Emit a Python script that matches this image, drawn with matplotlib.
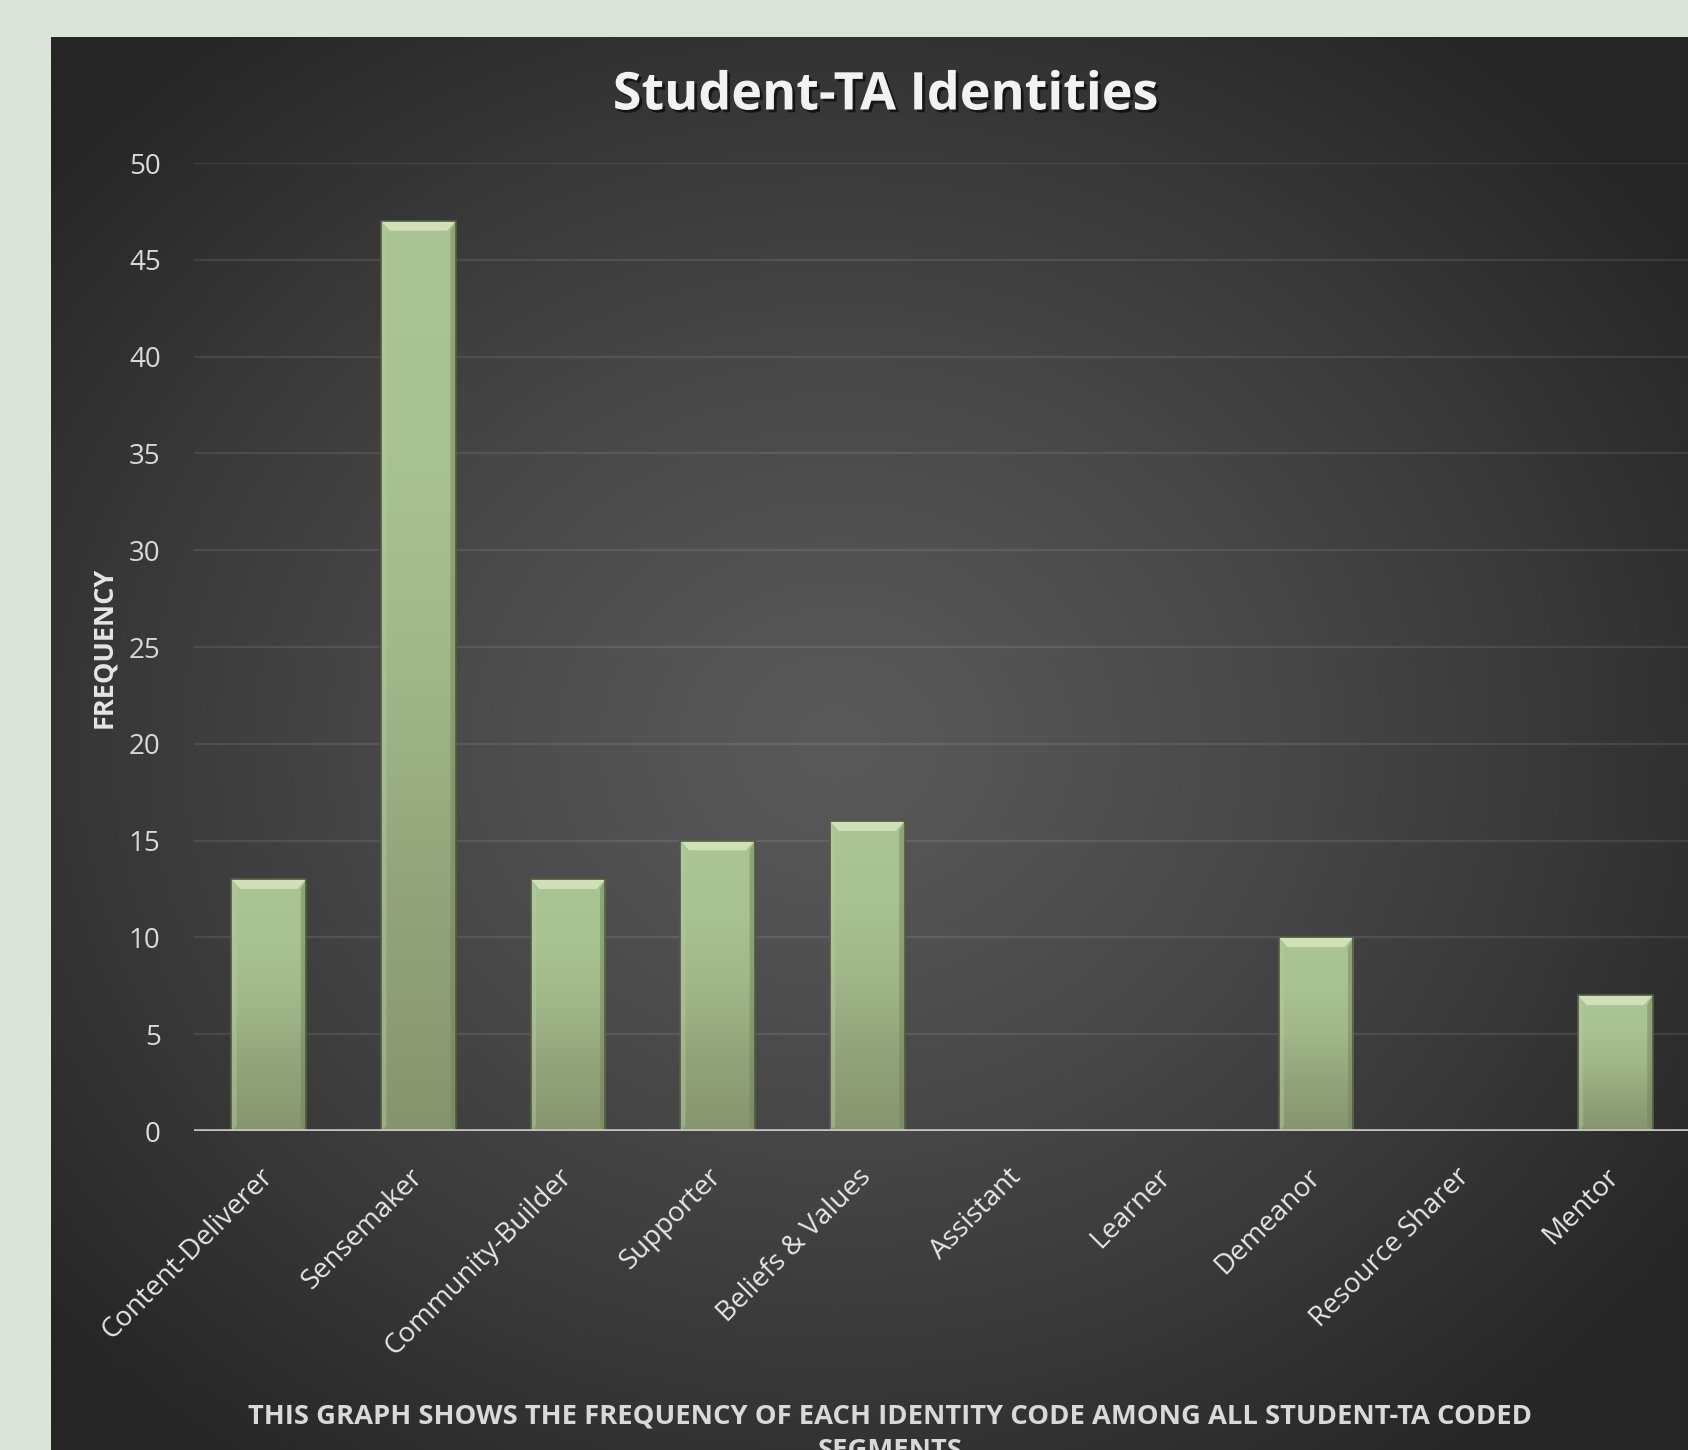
import numpy as np
import matplotlib
matplotlib.use("Agg")
import matplotlib.pyplot as plt
from matplotlib.patches import Polygon
from matplotlib.colors import LinearSegmentedColormap
import matplotlib.patheffects as pe

# Identity codes and their frequencies across Student-TA coded segments
categories = ["Content-Deliverer", "Sensemaker", "Community-Builder", "Supporter",
              "Beliefs & Values", "Assistant", "Learner", "Demeanor",
              "Resource Sharer", "Mentor"]
frequency = [13, 47, 13, 15, 16, 0, 0, 10, 0, 7]
y_ticks = [0, 5, 10, 15, 20, 25, 30, 35, 40, 45, 50]

title = "Student-TA Identities"
y_label = "FREQUENCY"
caption = ("THIS GRAPH SHOWS THE FREQUENCY OF EACH IDENTITY CODE AMONG ALL STUDENT-TA CODED\n"
           "SEGMENTS")

FONT = "Open Sans"
W, H, DPI = 1688, 1450, 100
fig = plt.figure(figsize=(W / DPI, H / DPI), dpi=DPI)
fig.patch.set_facecolor("#dce3d8")

# dark slide panel with a soft radial highlight
px0, py0 = 51, 37
bg = fig.add_axes([px0 / W, 0, 1 - px0 / W, (H - py0) / H], zorder=0)
nx, ny = 400, 360
xx, yy = np.meshgrid(np.linspace(0, 1, nx), np.linspace(0, 1, ny))
cx, cy = 0.48, 0.50
r = np.sqrt(((xx - cx) / 0.62) ** 2 + ((yy - cy) / 0.62) ** 2)
r = np.clip(r, 0, 1)
shade = 0x59 / 255 - (0x59 - 0x27) / 255 * r ** 1.25
img = np.dstack([shade, shade, shade])
bg.imshow(img, extent=[0, 1, 0, 1], aspect="auto", origin="upper",
          interpolation="bilinear")
bg.set_xlim(0, 1)
bg.set_ylim(0, 1)
bg.axis("off")

# main chart area
x_left, x_right = 194, 1690
y_top, y_zero = 163, 1131
ax = fig.add_axes([x_left / W, (H - y_zero) / H, (x_right - x_left) / W,
                   (y_zero - y_top) / H], zorder=1)
ax.patch.set_alpha(0)
n = len(categories)
x = np.arange(n)
ax.set_xlim(-0.5, n - 0.5)
ax.set_ylim(0, 50)

for t in y_ticks[1:]:
    ax.axhline(t, color="white", alpha=0.09, lw=1.6, zorder=1)

bar_w = 0.5
bar_cmap = LinearSegmentedColormap.from_list(
    "bar", ["#87956f", "#92a379", "#a0b788", "#a9c291", "#abc493"])
bevel_h = 0.5
bevel_dx = 0.06
for xi, v in zip(x, frequency):
    if v <= 0:
        continue
    bars = ax.bar(xi, v, width=bar_w, color="#a0b688", edgecolor="#4f5a40",
                  linewidth=1.2, zorder=3)
    patch = bars[0]
    grad = np.linspace(0, 1, 256).reshape(-1, 1)
    im = ax.imshow(grad, cmap=bar_cmap, origin="lower", aspect="auto",
                   extent=[xi - bar_w / 2, xi + bar_w / 2, 0, v], zorder=3.1,
                   interpolation="bilinear")
    im.set_clip_path(patch)
    # bevelled top edge
    top = Polygon([[xi - bar_w / 2, v], [xi + bar_w / 2, v],
                   [xi + bar_w / 2 - bevel_dx, v - bevel_h],
                   [xi - bar_w / 2 + bevel_dx, v - bevel_h]],
                  closed=True, facecolor="#d0e1b8", edgecolor="none", zorder=3.2)
    ax.add_patch(top)
    # side bevels
    left = Polygon([[xi - bar_w / 2, v], [xi - bar_w / 2 + bevel_dx * 0.6, v - bevel_h],
                    [xi - bar_w / 2 + bevel_dx * 0.6, 0.25], [xi - bar_w / 2, 0]],
                   closed=True, facecolor="#b6cb9e", alpha=0.45, edgecolor="none", zorder=3.2)
    right = Polygon([[xi + bar_w / 2, v], [xi + bar_w / 2 - bevel_dx * 0.6, v - bevel_h],
                     [xi + bar_w / 2 - bevel_dx * 0.6, 0.25], [xi + bar_w / 2, 0]],
                    closed=True, facecolor="#6f7d5a", alpha=0.45, edgecolor="none", zorder=3.2)
    ax.add_patch(left)
    ax.add_patch(right)
    ax.add_patch(Polygon([[xi - bar_w / 2, v], [xi + bar_w / 2, v],
                          [xi + bar_w / 2, 0], [xi - bar_w / 2, 0]], closed=True,
                         facecolor="none", edgecolor="#4f5a40", lw=1.2, zorder=3.3))

ax.axhline(0, color="#c4c4c4", lw=2.6, zorder=4)

for s in ax.spines.values():
    s.set_visible(False)
ax.set_yticks(y_ticks)
ax.set_yticklabels([str(t) for t in y_ticks], fontsize=20, color="#d9d9d9",
                   family=FONT)
ax.tick_params(axis="y", length=0, pad=24)
ax.set_xticks(x)
ax.set_xticklabels(categories, rotation=45, ha="right", va="center",
                   rotation_mode="anchor", fontsize=20, color="#e6e6e6",
                   family=FONT)
ax.tick_params(axis="x", length=0, pad=30)

fig.text(104 / W, 1 - 647 / H, y_label, rotation=90, ha="center", va="center",
         fontsize=19.5, fontweight="bold", color="#e6e6e6", family=FONT, zorder=5)

fig.text(886 / W, 1 - 96 / H, title, ha="center", va="center", fontsize=37.5,
         fontweight="bold", color="#f2f2f2", family=FONT, zorder=5,
         path_effects=[pe.withSimplePatchShadow(offset=(2, -2), shadow_rgbFace="black",
                                                alpha=0.6)])

fig.text(890 / W, 1 - 1404 / H, caption, ha="center", va="top", fontsize=19.7,
         fontweight="bold", color="#d9d9d9", family=FONT, zorder=5,
         linespacing=1.4)

fig.savefig("out.png", dpi=DPI, facecolor=fig.get_facecolor())
